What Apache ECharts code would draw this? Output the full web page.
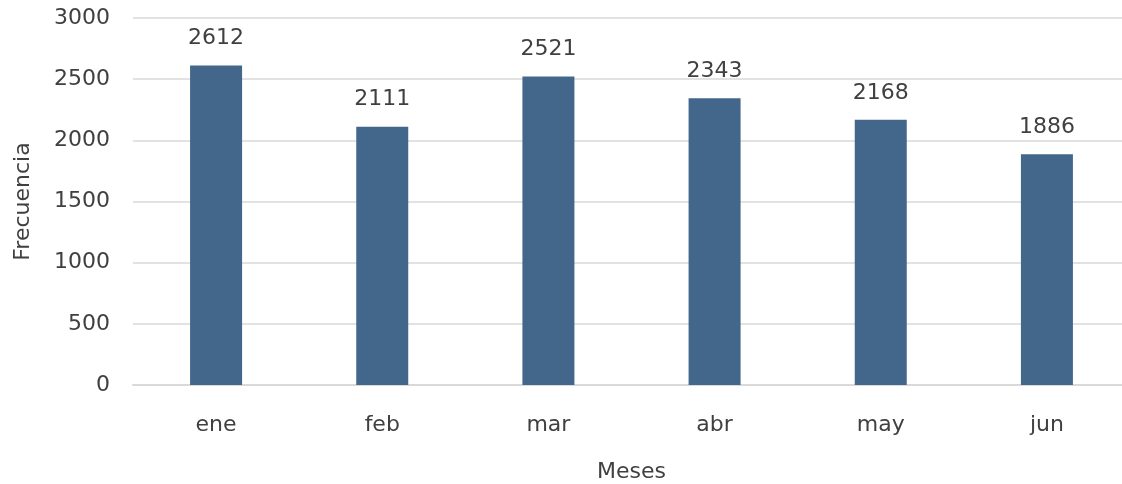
<!DOCTYPE html>
<html>
<head>
<meta charset="utf-8">
<script src="https://cdn.jsdelivr.net/npm/echarts@6/dist/echarts.min.js"></script>
<style>
  html, body { margin: 0; padding: 0; background: #fff; }
  #chart { width: 1122px; height: 484px; }
</style>
</head>
<body>
<div id="chart"></div>
<script>
// data
const meses = ['ene', 'feb', 'mar', 'abr', 'may', 'jun'];
const frecuencia = [2612, 2111, 2521, 2343, 2168, 1886];

const textColor = '#404040';
const fontFamily = '"DejaVu Sans", sans-serif';
const fs = 22;

const myChart = echarts.init(document.getElementById('chart'));

const option = {
  animation: false,
  textStyle: { fontFamily: fontFamily, color: textColor },
  grid: { left: 133, right: -8, top: 18, bottom: 99, containLabel: false, outerBoundsMode: 'none' },
  xAxis: {
    type: 'category',
    data: meses,
    name: 'Meses',
    nameLocation: 'middle',
    nameGap: 76,
    nameTextStyle: { fontSize: fs, color: textColor, fontFamily: fontFamily },
    axisTick: { show: false },
    axisLine: { lineStyle: { color: '#d9d9d9', width: 2 } },
    axisLabel: { fontSize: fs, color: textColor, margin: 29, fontFamily: fontFamily }
  },
  yAxis: {
    type: 'value',
    min: 0,
    max: 3000,
    interval: 500,
    name: 'Frecuencia',
    nameLocation: 'middle',
    nameGap: 99,
    nameRotate: 90,
    nameTextStyle: { fontSize: fs, color: textColor, fontFamily: fontFamily },
    axisLine: { show: false },
    axisTick: { show: false },
    axisLabel: { fontSize: fs, color: textColor, margin: 23, fontFamily: fontFamily, formatter: v => String(v) },
    splitLine: { lineStyle: { color: '#d9d9d9', width: 1.5 } }
  },
  series: [{
    type: 'bar',
    data: frecuencia,
    barWidth: 52,
    itemStyle: { color: '#43668b' },
    label: {
      show: true,
      position: 'top',
      distance: 16,
      fontSize: fs,
      color: textColor,
      fontFamily: fontFamily
    }
  }]
};

myChart.setOption(option);
</script>
</body>
</html>
